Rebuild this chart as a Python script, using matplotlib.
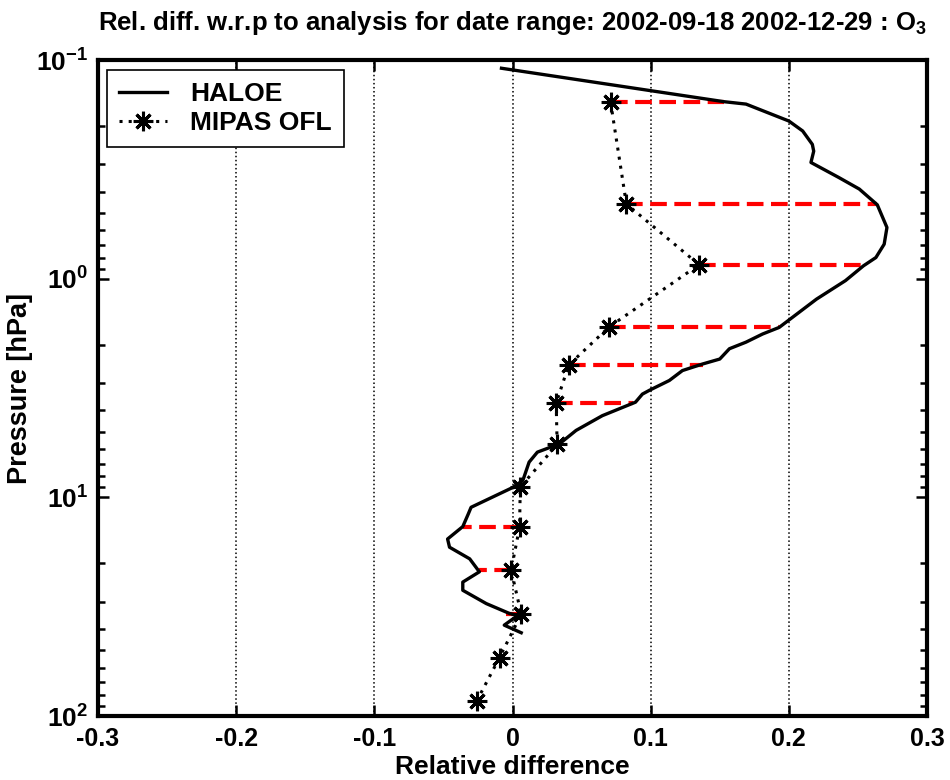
import numpy as np
import matplotlib.pyplot as plt
from matplotlib.ticker import FixedLocator, FixedFormatter, LogLocator, NullFormatter

plt.rcParams['font.family'] = ['Liberation Sans', 'DejaVu Sans']
plt.rcParams['font.weight'] = 'bold'
plt.rcParams['mathtext.fontset'] = 'custom'
plt.rcParams['mathtext.rm'] = 'Liberation Sans:bold'
plt.rcParams['mathtext.bf'] = 'Liberation Sans:bold'
plt.rcParams['mathtext.default'] = 'bf'

# HALOE relative difference profile
haloe_p = [0.109, 0.155, 0.159, 0.190, 0.211, 0.243, 0.261, 0.294, 0.344, 0.389,
           0.459, 0.583, 0.695, 0.800, 0.873, 1.02, 1.24, 1.67, 1.79, 1.95,
           2.09, 2.33, 2.45, 2.63, 2.92, 3.24, 3.37, 3.67, 4.23, 4.94,
           5.69, 6.21, 6.90, 8.36, 9.02, 9.95, 11.1, 11.9, 13.6, 15.5,
           16.9, 19.1, 21.9, 24.4, 26.6, 30.6, 34.0, 34.6, 38.4, 41.6]
haloe_x = [-0.008, 0.153, 0.169, 0.200, 0.210, 0.217, 0.218, 0.216, 0.236, 0.251,
           0.264, 0.271, 0.269, 0.263, 0.254, 0.241, 0.220, 0.193, 0.181, 0.169,
           0.157, 0.150, 0.138, 0.123, 0.1135, 0.099, 0.094, 0.089, 0.065, 0.046,
           0.034, 0.018, 0.012, 0.0075, 0.000, -0.0142, -0.030, -0.032, -0.036, -0.047,
           -0.0456, -0.031, -0.024, -0.036, -0.036, -0.019, -0.002, 0.004, -0.006, 0.0063]

# MIPAS OFL relative difference
mipas_p = [0.156, 0.455, 0.863, 1.66, 2.48, 3.71, 5.73, 8.97, 13.7, 21.5, 34.2, 54.0, 85.1]
mipas_x = [0.071, 0.0824, 0.135, 0.070, 0.0407, 0.0316, 0.0323, 0.0056, 0.0051,
           -0.001, 0.0063, -0.0094, -0.0258]
# HALOE value at the MIPAS levels (red connectors)
haloe_at_mipas = [0.153, 0.264, 0.2545, 0.193, 0.138, 0.087, 0.034, 0.006, -0.036,
                  -0.0245, -0.0046, np.nan, np.nan]

xticks = [-0.3, -0.2, -0.1, 0, 0.1, 0.2, 0.3]
xticklabels = ['-0.3', '-0.2', '-0.1', '0', '0.1', '0.2', '0.3']
yticks = [0.1, 1, 10, 100]
yticklabels = [r'$10^{-1}$', r'$10^{0}$', r'$10^{1}$', r'$10^{2}$']

fig = plt.figure(figsize=(9.5, 7.8), dpi=100)
ax = fig.add_axes([0.1032, 0.082, 0.8726, 0.841])

for p, x1, x2 in zip(mipas_p, mipas_x, haloe_at_mipas):
    if not np.isnan(x2):
        ax.plot([x1, x2], [p, p], color='red', lw=3, ls=(0, (4, 1.8)), zorder=2)

ax.plot(haloe_x, haloe_p, color='black', lw=2.4, label='HALOE', zorder=3)
ax.plot(mipas_x, mipas_p, color='black', lw=2.2, ls=(0, (1, 2)), marker=(8, 2, 0),
        ms=14, mew=2.2, label='MIPAS OFL', zorder=4)

ax.set_yscale('log')
ax.set_ylim(100, 0.1)
ax.set_xlim(-0.3, 0.3)
ax.xaxis.set_major_locator(FixedLocator(xticks))
ax.xaxis.set_major_formatter(FixedFormatter(xticklabels))
ax.yaxis.set_major_locator(FixedLocator(yticks))
ax.yaxis.set_major_formatter(FixedFormatter(yticklabels))
ax.yaxis.set_minor_locator(LogLocator(base=10, subs=np.arange(2, 10)))
ax.yaxis.set_minor_formatter(NullFormatter())
ax.grid(True, axis='x', which='major', color='black', ls=':', lw=1.1)

ax.tick_params(which='both', direction='in', top=True, right=True, width=1.8)
ax.tick_params(axis='x', labelsize=18, pad=8)
ax.tick_params(axis='y', labelsize=19, pad=7)
ax.tick_params(which='major', length=8)
ax.tick_params(which='minor', length=5)
for s in ax.spines.values():
    s.set_linewidth(3)

ax.set_xlabel('Relative difference', fontsize=19, fontweight='bold', labelpad=3)
ax.set_ylabel('Pressure [hPa]', fontsize=19.5, fontweight='bold', labelpad=2)
ax.set_title('Rel. diff. w.r.p to analysis for date range: 2002-09-18 2002-12-29 : O$_3$',
             fontsize=18.5, fontweight='bold', pad=22)

leg = ax.legend(loc='upper left', fontsize=19, frameon=True, fancybox=False,
                edgecolor='black', framealpha=1, handlelength=1.8, handletextpad=0.9,
                borderpad=0.45, labelspacing=0.2, borderaxespad=0,
                bbox_to_anchor=(0.011, 0.985))
leg.get_frame().set_linewidth(1.2)

fig.savefig('out.png', dpi=100)
